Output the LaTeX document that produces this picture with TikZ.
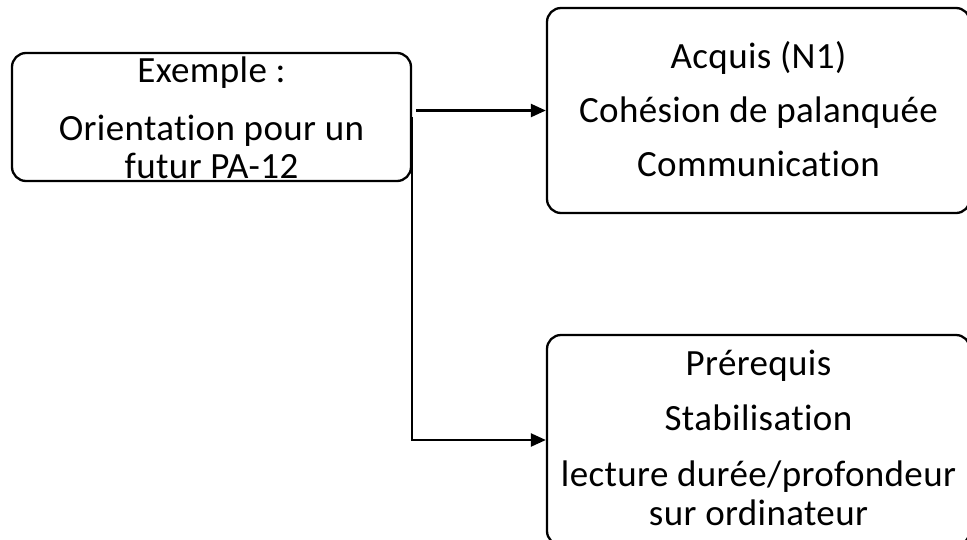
\documentclass[tikz,border=0pt]{standalone}
\usepackage{fontspec}
\setmainfont{Carlito}[Ligatures={NoCommon,NoContextual},LetterSpace=1.0]
\usetikzlibrary{arrows.meta}
\begin{document}
\begin{tikzpicture}[x=1pt,y=-1pt,
  box/.style={draw=black, line width=2.3pt, rounded corners=14pt, inner sep=0pt},
  txt/.style={font=\fontsize{37}{38.5}\selectfont, align=center, inner sep=0pt},
  conn/.style={line width=2.3pt, -{Triangle[length=15pt,width=13pt]}}]
\useasboundingbox[fill=white] (0,0) rectangle (967,539);
\node[box, minimum width=399pt, minimum height=128pt,
  label={[txt,yshift=-1pt]center:{Exemple :\\[19pt]Orientation pour un\\futur PA-12}}] (ex) at (211.5,117) {};
\node[box, minimum width=423pt, minimum height=205pt,
  label={[txt,yshift=1pt]center:{Acquis (N1)\\[15pt]Cohésion de palanquée\\[16pt]Communication}}] (acq) at (758.5,110.5) {};
\node[box, minimum width=423pt, minimum height=210pt,
  label={[txt,yshift=2pt]center:{Prérequis\\[16pt]Stabilisation\\[18pt]lecture durée/profondeur\\sur ordinateur}}] (pre) at (758.5,440) {};
\coordinate (s1) at ([xshift=4pt]ex.east |- acq.west);
\draw[conn] (s1) -- (acq.west);
\draw[conn] (ex.east) |- (pre.west);
\end{tikzpicture}
\end{document}
